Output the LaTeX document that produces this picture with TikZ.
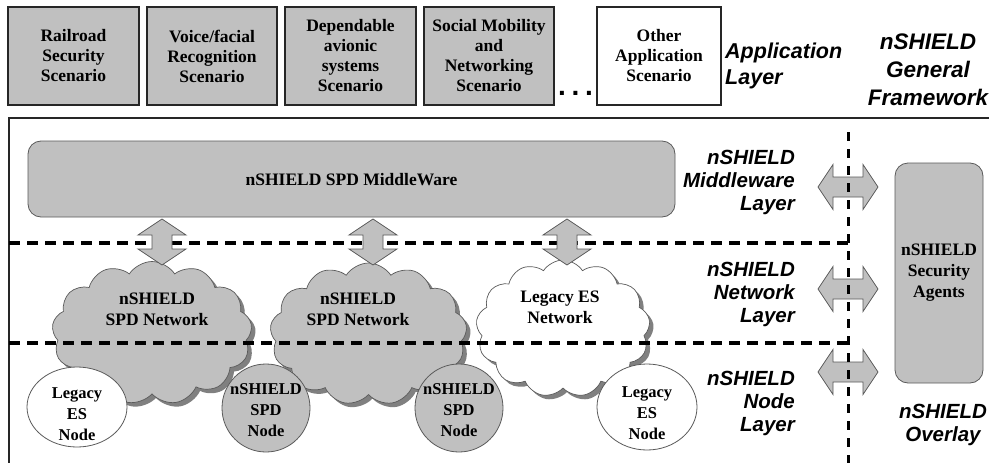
\documentclass[tikz,border=0pt]{standalone}
\usepackage{fontspec}
\setmainfont{Liberation Serif}
\setsansfont{Liberation Sans}
\usetikzlibrary{shapes.symbols,shapes.geometric}
\definecolor{boxgray}{HTML}{C0C0C0}
\definecolor{edgegray}{HTML}{5A5A5A}
\definecolor{shadowgray}{HTML}{808080}
\tikzset{
  appbox/.style={draw=black!85, line width=2.2pt, minimum height=98pt, inner sep=0pt, align=center,
    font=\fontsize{17.5}{20}\selectfont\bfseries},
  serif/.style={align=center, inner sep=0pt, font=\fontsize{17.5}{21}\selectfont\bfseries},
  nodetext/.style={align=center, inner sep=0pt, font=\fontsize{16.5}{21}\selectfont\bfseries},
  lbl/.style={align=right, inner sep=0pt, font=\fontsize{20.5}{23}\selectfont\sffamily\bfseries\itshape},
  cloudbody/.style={cloud, cloud puffs=13, cloud puff arc=115, draw=edgegray, line width=0.7pt, inner sep=0pt},
  cloudshade/.style={cloud, cloud puffs=13, cloud puff arc=115, fill=shadowgray, draw=none, inner sep=0pt},
  dashline/.style={line width=3.1pt, dash pattern=on 11pt off 7pt},
  vdashline/.style={line width=3pt, dash pattern=on 9pt off 8pt},
  circnode/.style={circle, draw=edgegray, line width=0.8pt, fill=boxgray, minimum size=88pt, inner sep=0pt},
  ellnode/.style={ellipse, draw=edgegray, line width=0.8pt, fill=white, inner sep=0pt},
  arrowfill/.style={draw=edgegray, fill=boxgray, line width=0.8pt, line join=miter},
  vdar/.pic={\path[arrowfill] (0,-23) -- (24,-7) -- (10,-7) -- (10,7) -- (24,7) -- (0,23) -- (-24,7) -- (-10,7) -- (-10,-7) -- (-24,-7) -- cycle;},
  hdar/.pic={\path[arrowfill] (-30,0) -- (-15,-22.5) -- (-15,-10) -- (15,-10) -- (15,-22.5) -- (30,0) -- (15,22.5) -- (15,10) -- (-15,10) -- (-15,22.5) -- cycle;}
}
\begin{document}
\begin{tikzpicture}[x=1pt,y=-1pt]
\useasboundingbox (0,0) rectangle (989,463);
\clip (0,0) rectangle (989,463);
\fill[white] (0,0) rectangle (989,463);

% application layer boxes
\node[appbox, fill=boxgray, minimum width=131pt] (app1) at (73.5,56) {Railroad\\Security\\Scenario};
\node[appbox, fill=boxgray, minimum width=130pt] (app2) at (212,56) {Voice/facial\\Recognition\\Scenario};
\node[appbox, fill=boxgray, minimum width=131pt] (app3) at (350.5,56) {Dependable\\avionic\\systems\\Scenario};
\node[appbox, fill=boxgray, minimum width=130pt] (app4) at (489,56) {Social Mobility\\and\\Networking\\Scenario};
\node[appbox, fill=white, minimum width=124pt] (app5) at (659,56) {Other\\Application\\Scenario};
\node[inner sep=0pt, font=\fontsize{28}{28}\selectfont\sffamily\bfseries] (dots) at (575.5,93) {.\hspace{5.7pt}.\hspace{5.7pt}.};
\node[lbl, align=left, anchor=west, font=\fontsize{21.5}{26}\selectfont\sffamily\bfseries\itshape] (appl) at (725,66) {Application\\Layer};
\node[lbl, align=center, font=\fontsize{22.5}{28}\selectfont\sffamily\bfseries\itshape] (title) at (928,70) {nSHIELD\\General\\Framework};

% frame
\draw[line width=2.2pt, black!85] (9,470) -- (9,118) -- (995,118);

% middleware
\node[draw=edgegray, line width=0.8pt, fill=boxgray, rounded corners=13pt, minimum width=647pt, minimum height=76pt, inner sep=0pt] (mw) at (351.5,179) {};
\node[serif] (mwt) at (351.5,180) {nSHIELD SPD MiddleWare};

% clouds
\node[cloudshade, minimum width=200pt, minimum height=143pt] (net1s) at (156,337) {};
\node[cloudbody, fill=boxgray, minimum width=200pt, minimum height=143pt] (net1) at (152,333) {};
\node[cloudshade, minimum width=197pt, minimum height=142pt] (net2s) at (372.5,338) {};
\node[cloudbody, fill=boxgray, minimum width=197pt, minimum height=142pt] (net2) at (368.5,334) {};
\node[cloudshade, minimum width=174pt, minimum height=137pt] (net3s) at (567,332.5) {};
\node[cloudbody, fill=white, minimum width=174pt, minimum height=137pt] (net3) at (563,328.5) {};
\node[serif] (net1t) at (157,309) {nSHIELD\\SPD Network};
\node[serif] (net2t) at (358,309) {nSHIELD\\SPD Network};
\node[serif] (net3t) at (560,307) {Legacy ES\\Network};

% security agents
\node[draw=edgegray, line width=0.8pt, fill=boxgray, rounded corners=13pt, minimum width=88pt, minimum height=220pt, inner sep=0pt] (sa) at (939,273) {};
\node[serif] (sat) at (939,273) {nSHIELD\\Security\\Agents};

% horizontal arrows to overlay
\pic (h1) at (848,187) {hdar};
\pic (h2) at (848,289) {hdar};
\pic (h3) at (848,372) {hdar};

% dashed layer borders
\draw[dashline] (9,243) -- (848,243);
\draw[dashline] (9,343) -- (848,343);
\draw[vdashline] (848,132) -- (848,470);

% nodes
\node[ellnode, minimum width=100pt, minimum height=80pt] (leg1) at (77,407) {};
\node[circnode] (spd1) at (266,408) {};
\node[circnode] (spd2) at (459,408) {};
\node[ellnode, minimum width=100pt, minimum height=86pt] (leg2) at (647,407) {};
\node[nodetext] (leg1t) at (77,414) {Legacy\\ES\\Node};
\node[nodetext] (spd1t) at (266,410) {nSHIELD\\SPD\\Node};
\node[nodetext] (spd2t) at (459,410) {nSHIELD\\SPD\\Node};
\node[nodetext] (leg2t) at (647,413) {Legacy\\ES\\Node};

% vertical arrows middleware <-> networks
\pic (v1) at (162,242) {vdar};
\pic (v2) at (373,242) {vdar};
\pic (v3) at (567,242) {vdar};

% layer labels
\node[lbl, anchor=east] (mwl) at (795,182) {nSHIELD\\Middleware\\Layer};
\node[lbl, anchor=east] (nwl) at (795,294) {nSHIELD\\Network\\Layer};
\node[lbl, anchor=east] (ndl) at (795,403) {nSHIELD\\Node\\Layer};
\node[lbl, align=center] (ovl) at (943,425) {nSHIELD\\Overlay};
\end{tikzpicture}
\end{document}
